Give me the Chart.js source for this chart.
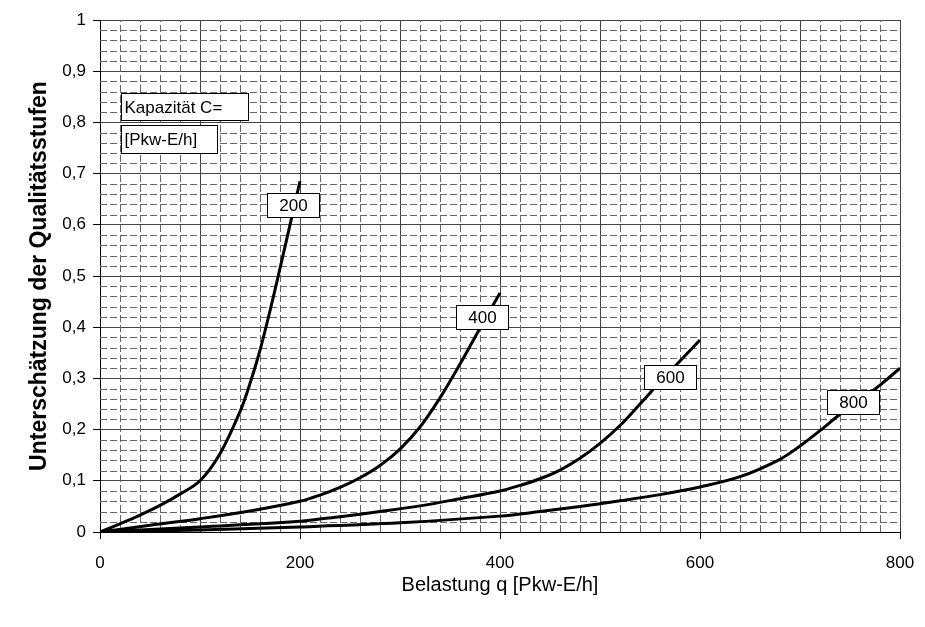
<!DOCTYPE html>
<html>
<head>
<meta charset="utf-8">
<script src="https://cdn.jsdelivr.net/npm/chart.js@4.4.1/dist/chart.umd.min.js"></script>
<style>
  html, body { margin: 0; padding: 0; background: #fff; overflow: hidden; }
  #wrap { width: 925px; height: 627px; }
</style>
</head>
<body>
<div id="wrap"><canvas id="chart"></canvas></div>
<script>
// Belastung q [Pkw-E/h] and Unterschätzung for each capacity C
const q200 = [0, 20, 40, 60, 80, 100, 120, 140, 150, 160, 170, 180, 190, 200];
const u200 = [0, 0.016, 0.033, 0.052, 0.074, 0.1, 0.153, 0.235, 0.29, 0.355, 0.432, 0.515, 0.6, 0.685];

const q400 = [0, 50, 100, 150, 200, 220, 240, 260, 280, 300, 320, 340, 360, 380, 400];
const u400 = [0, 0.013, 0.026, 0.041, 0.06, 0.072, 0.087, 0.106, 0.13, 0.162, 0.205, 0.262, 0.328, 0.398, 0.467];

const q600 = [0, 100, 200, 240, 280, 320, 360, 400, 420, 440, 460, 480, 500, 520, 540, 560, 580, 600];
const u600 = [0, 0.01, 0.021, 0.03, 0.04, 0.051, 0.065, 0.08, 0.091, 0.104, 0.121, 0.144, 0.173, 0.208, 0.25, 0.293, 0.334, 0.375];

const q800 = [0, 100, 200, 300, 400, 440, 480, 520, 560, 600, 640, 680, 700, 720, 740, 760, 780, 800];
const u800 = [0, 0.004, 0.01, 0.018, 0.031, 0.04, 0.05, 0.061, 0.073, 0.088, 0.108, 0.142, 0.168, 0.198, 0.23, 0.258, 0.287, 0.32];

const capacities = ['200', '400', '600', '800'];
// where each curve's label box sits (data coordinates)
const labelQ = [193, 382, 570, 753];
const labelU = [0.639, 0.42, 0.303, 0.254];

const legendLines = ['Kapazität C=', '[Pkw-E/h]'];

const FONT = "'Liberation Sans', Arial, sans-serif";

function pts(xs, ys){
    let out = [];
    for(let i = 0; i < xs.length; i++){
        out.push({x: xs[i], y: ys[i]});
    }
    return out;
}

function curve(xs, ys){
    return {
        data: pts(xs, ys),
        borderColor: '#000',
        borderWidth: 3,
        pointRadius: 0,
        fill: false,
        tension: 0.35
    };
}

// dashed minor grid (every 20 on x, every 0.02 on y)
const minorGrid = {
    id: 'minorGrid',
    beforeDatasetsDraw(chart){
        const ctx = chart.ctx;
        const a = chart.chartArea;
        const xs = chart.scales.x, ys = chart.scales.y;
        ctx.save();
        ctx.strokeStyle = '#666';
        ctx.lineWidth = 1;
        ctx.setLineDash([7, 3]);
        for(let v = 20; v < 800; v += 20){
            if(v % 100 == 0) continue;
            const px = Math.round(xs.getPixelForValue(v)) + 0.5;
            ctx.beginPath();
            ctx.moveTo(px, a.bottom);
            ctx.lineTo(px, a.top);
            ctx.stroke();
        }
        for(let k = 1; k < 50; k++){
            if(k % 5 == 0) continue;
            const py = Math.round(ys.getPixelForValue(k * 0.02)) + 0.5;
            ctx.beginPath();
            ctx.moveTo(a.left, py);
            ctx.lineTo(a.right, py);
            ctx.stroke();
        }
        ctx.restore();
    }
};

function box(ctx, text, cx, cy, left){
    ctx.font = '17px ' + FONT;
    const w = left ? left.w : 52;
    const h = left ? left.h : 24;
    const x0 = left ? left.x : Math.round(cx - w / 2) + 0.5;
    const y0 = left ? left.y : Math.round(cy - h / 2) + 0.5;
    ctx.fillStyle = '#fff';
    ctx.fillRect(x0, y0, w, h);
    ctx.strokeStyle = '#000';
    ctx.lineWidth = 1;
    ctx.strokeRect(x0, y0, w, h);
    ctx.fillStyle = '#000';
    ctx.textBaseline = 'middle';
    if(left){
        ctx.textAlign = 'left';
        ctx.fillText(text, x0 + 3, y0 + h / 2 + 1);
    } else {
        ctx.textAlign = 'center';
        ctx.fillText(text, x0 + w / 2, y0 + h / 2 + 1);
    }
}

const curveLabels = {
    id: 'curveLabels',
    afterDatasetsDraw(chart){
        const ctx = chart.ctx;
        const a = chart.chartArea;
        ctx.save();
        for(let i = 0; i < capacities.length; i++){
            const cx = chart.scales.x.getPixelForValue(labelQ[i]);
            const cy = chart.scales.y.getPixelForValue(labelU[i]);
            box(ctx, capacities[i], cx, cy);
        }
        box(ctx, legendLines[0], 0, 0, {x: Math.round(a.left) + 21.5, y: 93.5, w: 127, h: 27});
        box(ctx, legendLines[1], 0, 0, {x: Math.round(a.left) + 21.5, y: 125.5, w: 96, h: 28});
        ctx.restore();
    }
};

new Chart(document.getElementById('chart'), {
    type: 'line',
    data: {
        datasets: [
            curve(q200, u200),
            curve(q400, u400),
            curve(q600, u600),
            curve(q800, u800)
        ]
    },
    options: {
        responsive: true,
        maintainAspectRatio: false,
        animation: false,
        layout: {padding: {left: 0, right: 25, top: 20, bottom: 0}},
        plugins: {
            legend: {display: false},
            title: {display: false},
            tooltip: {enabled: false}
        },
        scales: {
            x: {
                type: 'linear',
                min: 0,
                max: 800,
                afterFit: function(s){
                    s.height = 95;
                    s.paddingLeft = 0;
                    s.paddingRight = 0;
                },
                border: {color: '#000', width: 1},
                grid: {
                    color: '#444',
                    lineWidth: 1,
                    tickLength: 7,
                    tickColor: function(c){ return c.tick && c.tick.value % 200 == 0 ? '#000' : 'rgba(0,0,0,0)'; }
                },
                ticks: {
                    stepSize: 100,
                    maxRotation: 0,
                    autoSkip: false,
                    padding: 14,
                    color: '#000',
                    font: {family: FONT, size: 17},
                    callback: function(v){ return v % 200 == 0 ? String(v) : ''; }
                },
                title: {
                    display: true,
                    text: 'Belastung q [Pkw-E/h]',
                    color: '#000',
                    font: {family: FONT, size: 20},
                    padding: {top: 0, bottom: 30}
                }
            },
            y: {
                type: 'linear',
                min: 0,
                max: 1,
                afterFit: function(s){
                    s.width = 100;
                    s.paddingTop = 0;
                    s.paddingBottom = 0;
                },
                border: {color: '#000', width: 1},
                grid: {
                    color: '#444',
                    lineWidth: 1,
                    tickLength: 7,
                    tickColor: '#000'
                },
                ticks: {
                    stepSize: 0.1,
                    padding: 7,
                    color: '#000',
                    font: {family: FONT, size: 17},
                    callback: function(v){
                        const r = Math.round(v * 10) / 10;
                        return String(r).replace('.', ',');
                    }
                },
                title: {
                    display: true,
                    text: 'Unterschätzung der Qualitätsstufen',
                    color: '#000',
                    font: {family: FONT, size: 23, weight: 'bold'},
                    padding: {top: 26, bottom: 0}
                }
            }
        }
    },
    plugins: [minorGrid, curveLabels]
});
</script>
</body>
</html>
